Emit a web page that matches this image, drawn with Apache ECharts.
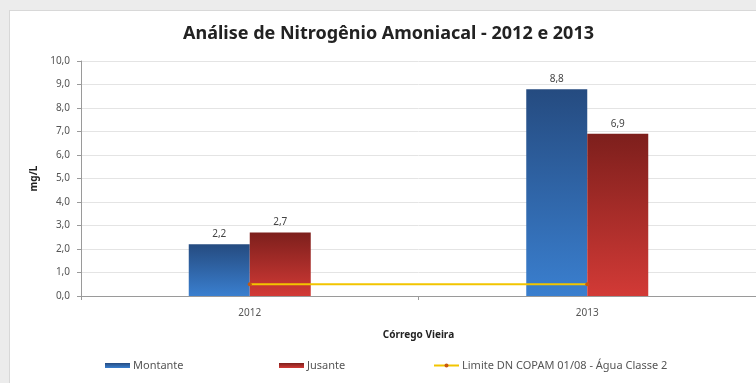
<!DOCTYPE html>
<html><head><meta charset="utf-8">
<script src="https://cdn.jsdelivr.net/npm/echarts@6/dist/echarts.min.js"></script>
<style>
html,body{margin:0;padding:0;background:#ececec;}
#frame{position:absolute;left:9px;top:10px;width:760px;height:380px;background:#fff;border:1px solid #d8d8d8;}
#chart{position:absolute;left:0;top:0;width:756px;height:383px;}
</style></head>
<body>
<div id="frame"></div>
<div id="chart"></div>
<script>
const categories = ['2012', '2013'];
const montante = [2.2, 8.8];
const jusante = [2.7, 6.9];
const limite = [0.5, 0.5];
const yTicks = [0, 1, 2, 3, 4, 5, 6, 7, 8, 9, 10];
const seriesNames = ['Montante', 'Jusante', 'Limite DN COPAM 01/08 - Água Classe 2'];

const fmt = v => v.toFixed(1).replace('.', ',');
const font = "'Noto Sans', 'Liberation Sans', sans-serif";

const legendBase = {
  top: 355, itemWidth: 25, itemHeight: 5, itemGap: 0,
  textStyle: {fontFamily: font, fontSize: 11, color: '#555', padding: [0, 0, 0, -2]}
};

const chart = echarts.init(document.getElementById('chart'));
chart.setOption({
  backgroundColor: 'transparent',
  animation: false,
  title: {
    text: 'Análise de Nitrogênio Amoniacal - 2012 e 2013',
    left: 178, top: 20,
    textStyle: {fontFamily: font, fontSize: 18, fontWeight: 'bold', color: '#222'}
  },
  grid: {left: 81, right: 0, top: 61, bottom: 87},
  xAxis: {
    type: 'category', data: categories,
    name: 'Córrego Vieira', nameLocation: 'middle', nameGap: 34,
    nameTextStyle: {fontFamily: font, fontSize: 10, fontWeight: 'bold', color: '#222'},
    axisLine: {lineStyle: {color: '#9a9a9a'}},
    axisTick: {show: true, alignWithLabel: false, length: 4, lineStyle: {color: '#9a9a9a'}},
    axisLabel: {fontFamily: font, fontSize: 10, color: '#555', margin: 12}
  },
  yAxis: {
    type: 'value', min: yTicks[0], max: yTicks[yTicks.length - 1], interval: 1,
    name: 'mg/L', nameLocation: 'middle', nameGap: 42, nameRotate: 90,
    nameTextStyle: {fontFamily: font, fontSize: 10, fontWeight: 'bold', color: '#222'},
    axisLine: {show: true, lineStyle: {color: '#9a9a9a'}},
    axisTick: {show: true, length: 4, lineStyle: {color: '#9a9a9a'}},
    axisLabel: {fontFamily: font, fontSize: 10, color: '#555', margin: 11, formatter: fmt},
    splitLine: {lineStyle: {color: '#e4e4e4'}}
  },
  legend: [
    Object.assign({}, legendBase, {left: 100, data: [{name: seriesNames[0], icon: 'rect'}]}),
    Object.assign({}, legendBase, {left: 274, data: [{name: seriesNames[1], icon: 'rect'}]}),
    Object.assign({}, legendBase, {left: 428, data: [{name: seriesNames[2]}]})
  ],
  series: [
    {
      name: seriesNames[0], type: 'bar', data: montante,
      barWidth: 61, barGap: '0%',
      itemStyle: {color: new echarts.graphic.LinearGradient(0, 0, 0, 1, [
        {offset: 0, color: '#254b80'}, {offset: 1, color: '#3a7fcf'}])},
      label: {show: true, position: 'top', distance: 5, fontFamily: font, fontSize: 10, color: '#444', formatter: p => fmt(p.value)}
    },
    {
      name: seriesNames[1], type: 'bar', data: jusante,
      barWidth: 61,
      itemStyle: {color: new echarts.graphic.LinearGradient(0, 0, 0, 1, [
        {offset: 0, color: '#7d1f1c'}, {offset: 1, color: '#d23a36'}])},
      label: {show: true, position: 'top', distance: 5, fontFamily: font, fontSize: 10, color: '#444', formatter: p => fmt(p.value)}
    },
    {
      name: seriesNames[2], type: 'line', data: limite,
      symbol: 'circle', symbolSize: 4,
      lineStyle: {color: '#f2c500', width: 2},
      itemStyle: {color: '#c8580e'}
    }
  ]
});
</script>
</body></html>
